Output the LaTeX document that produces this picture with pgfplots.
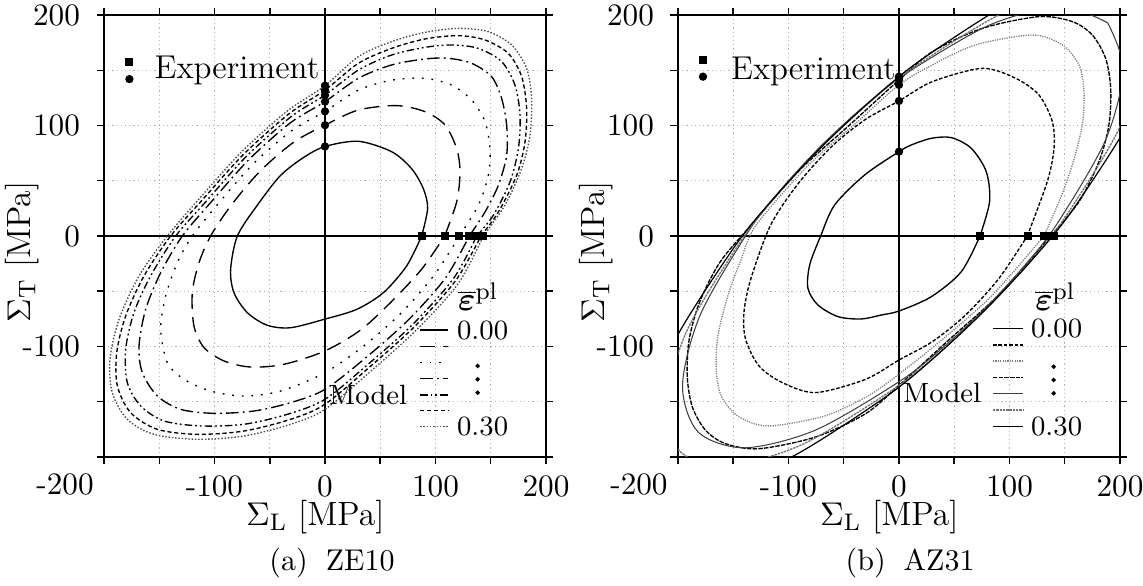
\documentclass[border=0pt]{standalone}
\usepackage{pgfplots}
\pgfplotsset{compat=1.18}
\usepackage{bm}
\pgfplotsset{
  base/.style={
    width=147.33pt, height=147.33pt, scale only axis,
    xmin=-200, xmax=200, ymin=-200, ymax=200,
    xtick={-200,-150,...,200}, ytick={-200,-150,...,200},
    xticklabels={,,-100,,0,,100,,200},
    yticklabels={,,-100,,0,,100,,200},
    tick align=outside, major tick length=2.5pt,
    grid=major, grid style={densely dotted, black!30, line width=0.4pt},
    axis line style={line width=0.6pt}, tick style={black, line width=0.5pt},
    ticklabel style={font=\fontsize{10.4}{12}\selectfont},
    yticklabel style={xshift=-2pt},
    xticklabel style={inner sep=1pt, yshift=-2.4pt},
    extra x ticks={0}, extra y ticks={0},
    extra x tick labels={}, extra y tick labels={},
    extra tick style={grid style={solid, black, line width=0.6pt}},
    xlabel={$\Sigma_{\mathrm{L}}$ [MPa]}, ylabel={$\Sigma_{\mathrm{T}}$ [MPa]},
    label style={font=\fontsize{11.2}{13}\selectfont},
    xlabel style={at={(axis description cs:0.478,-0.135)}, anchor=center, inner sep=0pt},
    ylabel style={at={(axis description cs:-0.186,0.464)}, anchor=center},
    every axis plot/.append style={line width=0.45pt, black},
  },
  sq/.style={only marks, mark=square*, mark size=1.1pt},
  dt/.style={only marks, mark=*, mark size=1.15pt},
  vd/.style={only marks, mark=*, mark size=0.5pt},
  c0/.style={solid},
  c1/.style={dash pattern=on 5pt off 2.8pt},
  c2/.style={dash pattern=on 0.6pt off 2.6pt},
  c3/.style={dash pattern=on 4.2pt off 1.4pt on 0.6pt off 1.4pt},
  c4/.style={dash pattern=on 2.5pt off 1pt on 0.6pt off 1pt on 0.6pt off 1pt},
  c5/.style={dash pattern=on 1.4pt off 0.9pt},
  c6/.style={dash pattern=on 0.5pt off 0.6pt, black!70},
  r0/.style={solid},
  r1/.style={dash pattern=on 1.2pt off 0.6pt},
  r2/.style={dash pattern=on 0.4pt off 0.4pt, black!50},
  r3/.style={dash pattern=on 1.5pt off 0.4pt},
  r4/.style={solid, black!75, line width=0.35pt},
  r5/.style={dash pattern=on 0.8pt off 0.3pt, black!55},
  r6/.style={solid, line width=0.4pt},
}
\newcommand{\lfont}{\fontsize{9.3}{11}\selectfont}
\newcommand{\efont}{\fontsize{11}{13}\selectfont}
\begin{document}
\begin{tikzpicture}
% ---------------- (a) ZE10 ----------------
\begin{axis}[base, at={(0pt,0pt)}, anchor=south west]
\addplot[c0, smooth] coordinates {(87.5,0) (92.9,25) (89,42.8) (78.4,60.9) (60.3,76.3) (30.2,85.7) (0,81) (-19.6,70.9) (-40.7,54.3) (-61.8,27.1) (-79.3,0) (-85.4,-30.2) (-82.4,-51.3) (-70.3,-69.4) (-52.2,-80.8) (-31.1,-83) (0,-75.2) (28.7,-66.4) (52.8,-51.3) (73.9,-27.1) (87.5,0)};
\addplot[c1, smooth] coordinates {(108.3,0) (119.2,31) (122.2,58) (119.2,79) (108.6,100.5) (90.5,112.5) (64.9,118) (30.2,114) (0,100.3) (-28.3,84.9) (-58.7,58.7) (-84.7,28.1) (-103.5,0) (-114,-24.1) (-120.1,-51.3) (-118.6,-81.4) (-109.5,-101) (-91.4,-113.1) (-67.3,-118.6) (-37.1,-116.1) (0,-104) (33,-84.5) (63,-56.5) (88.3,-29) (108.3,0)};
\addplot[c2, smooth] coordinates {(121.6,0) (138.8,27.8) (147.8,55) (149.3,79) (144.8,103.5) (132.7,123) (114.6,136.6) (90.5,142.7) (60.3,141) (30.2,132) (0,112.8) (-31,94.7) (-65.1,65.1) (-94.9,31.3) (-120.1,0) (-133.6,-24.1) (-144.2,-54.3) (-148.7,-84.5) (-142.7,-114.6) (-127.6,-129.7) (-103.5,-140.3) (-73.3,-144.8) (-40.1,-140.3) (0,-123.7) (35.5,-99.1) (69.3,-69.3) (98.9,-35.3) (121.6,0)};
\addplot[c3, smooth] coordinates {(130.6,0) (144.8,21.7) (156.9,45.9) (164.4,73) (164.4,100.2) (159.9,124.3) (150.8,144.2) (132.7,156.3) (111.6,160.8) (90.5,160.2) (60.3,154.8) (30.2,142.7) (0,121.6) (-31.5,102.3) (-69,69) (-102.3,31.6) (-129.1,0) (-148.7,-33.2) (-162.3,-66.4) (-168.3,-99.5) (-165.3,-123.7) (-151.7,-144.8) (-130.6,-156.9) (-100.5,-160.5) (-64.3,-158.4) (-31.1,-150.8) (0,-138.8) (38.3,-109) (75.7,-75.7) (108.9,-38.2) (130.6,0)};
\addplot[c4, smooth] coordinates {(137.3,0) (152.3,18.7) (167.4,48.9) (175,79) (176.5,109.5) (171.9,136.6) (159.9,157.8) (138.8,169.8) (114.6,172.9) (90.5,170.7) (60.3,163.8) (30.2,150.2) (0,127.5) (-30.4,108.2) (-71.6,71.6) (-108.3,30.5) (-135.1,0) (-157.8,-36.2) (-172.9,-69.4) (-180.4,-102.6) (-178.9,-132.7) (-166.8,-153.8) (-145.7,-167.4) (-112.5,-171.9) (-73.3,-170.4) (-34.1,-161.4) (0,-147.8) (38.6,-116.4) (79.7,-79.7) (116.3,-38.5) (137.3,0)};
\addplot[c5, smooth] coordinates {(141.2,0) (156.9,21.7) (173.5,55) (181,85) (182.5,115.5) (178,144.2) (165.9,165.3) (144.8,177.4) (120.7,181.3) (90.5,178.3) (60.3,169.8) (30.2,156.3) (0,132) (-32.7,110.5) (-73.8,73.8) (-110.7,33) (-139.7,0) (-163.8,-36.2) (-180.4,-72.4) (-188.5,-105.6) (-187.9,-135.7) (-175.9,-159.9) (-151.7,-175) (-115.5,-179.5) (-73.3,-176.5) (-31.1,-165.9) (0,-152.3) (40.6,-118.4) (81.5,-81.5) (118.2,-40.4) (141.2,0)};
\addplot[c6, smooth] coordinates {(143.3,0) (162.9,28) (178,61.2) (185.5,91.1) (187,124.6) (182.5,151.7) (168.9,172.9) (147.8,184.9) (120.7,187.9) (90.5,184.3) (60.3,175.9) (30.2,162.3) (0,136) (-34.8,112.6) (-75.8,75.8) (-112.7,34.9) (-142.7,0) (-168.3,-36.2) (-186.4,-75.4) (-194.6,-111.6) (-192.5,-141.8) (-178.9,-165.9) (-154.8,-179.5) (-115.5,-184) (-73.3,-181) (-31.1,-170.4) (0,-156.9) (43.1,-120.9) (83.9,-83.9) (120.7,-42.9) (143.3,0)};
% experiment
\addplot[sq] coordinates {(87.5,0) (108.3,0) (121.6,0) (130.6,0) (137.3,0) (141.2,0) (143.3,0)};
\addplot[dt] coordinates {(0,81) (0,100.3) (0,112.8) (0,121.6) (0,127.5) (0,132) (0,136)};
\addplot[sq] coordinates {(-177,157.5)};
\addplot[dt] coordinates {(-177,142)};
\node[anchor=west, font=\efont] at (axis cs:-163.8,150) {Experiment};
% model legend
\addplot[c0] coordinates {(86,-85.1) (111.6,-85.1)};
\addplot[c1] coordinates {(86,-100.2) (111.6,-100.2)};
\addplot[c2] coordinates {(86,-114.3) (111.6,-114.3)};
\addplot[c3] coordinates {(86,-128.8) (111.6,-128.8)};
\addplot[c4] coordinates {(86,-143.9) (111.6,-143.9)};
\addplot[c5] coordinates {(86,-158.1) (111.6,-158.1)};
\addplot[c6] coordinates {(86,-172.6) (111.6,-172.6)};
\addplot[vd] coordinates {(138.2,-117.6) (138.2,-129.7) (138.2,-141.8)};
\node[font=\efont] at (axis cs:138.7,-54.9) {$\overline{\bm{\varepsilon}}^{\mathrm{pl}}$};
\node[anchor=west, font=\lfont] at (axis cs:110,-85.1) {0.00};
\node[anchor=west, font=\lfont] at (axis cs:110,-172.6) {0.30};
\node[anchor=east, font=\lfont] at (axis cs:84,-143.9) {Model};
\end{axis}
\node[font=\fontsize{10.4}{12}\selectfont] at (-13pt,-9pt) {-200};
\node[font=\fontsize{10}{12}\selectfont] at (76pt,-35.3pt) {(a)\hspace{6pt}ZE10};
% ---------------- (b) AZ31 ----------------
\begin{axis}[base, at={(191.33pt,0pt)}, anchor=south west]
\addplot[r0, smooth] coordinates {(73.3,0) (82,31.1) (79,58.2) (65.5,79.3) (47.4,89) (29.3,88.4) (11.2,82.4) (0,76.3) (-31.1,55.2) (-58.2,28.1) (-70.9,0) (-80.8,-26.2) (-82.4,-47.4) (-73.4,-62.4) (-55.2,-73) (-34.1,-75.1) (-16,-71.5) (0,-67.9) (29.3,-54.9) (56.4,-32.3) (73.3,0)};
\addplot[r1, smooth] coordinates {(116.1,0) (134.2,49.2) (140.3,79.3) (138.8,103.5) (126.7,127.6) (105.6,142.7) (75.4,151.7) (30.2,139.7) (0,122.2) (-30.2,105.6) (-60.3,81.5) (-90.5,48.3) (-116.1,10) (-134.2,-39.2) (-140.3,-69.3) (-138.8,-93.5) (-126.7,-117.6) (-105.6,-132.7) (-75.4,-141.7) (-30.2,-129.7) (0,-112.2) (30.2,-95.6) (60.3,-71.5) (90.5,-38.3) (116.1,0)};
\addplot[r2, smooth] coordinates {(131.2,0) (144.8,31) (156.9,64.3) (165.9,100.5) (167.4,130.6) (162.9,154.8) (147.8,172.9) (120.7,181.9) (69.4,172.9) (30.2,154.8) (0,136.7) (-38,103) (-83,63) (-129.2,10) (-142.8,-21) (-154.9,-54.3) (-163.9,-90.5) (-165.4,-120.6) (-160.9,-144.8) (-145.8,-162.9) (-118.7,-171.9) (-67.4,-162.9) (-28.2,-144.8) (0,-125) (40,-93) (85,-53) (131.2,0)};
\addplot[r3, smooth] coordinates {(137.3,0) (162.9,31) (181,67.3) (190,100.5) (191.6,133.6) (187,160.8) (175,181.9) (156.9,194) (126.7,198.5) (75.4,187.9) (30.2,166.8) (0,141.2) (-45.2,100) (-90.5,59) (-137.3,6) (-162.9,-25) (-181,-61.3) (-190,-94.5) (-191.6,-127.6) (-187,-154.8) (-175,-175.9) (-156.9,-188) (-126.7,-192.5) (-75.4,-181.9) (-30.2,-160.8) (0,-135.2) (45.2,-94) (90.5,-53) (137.3,0)};
\addplot[r4, smooth] coordinates {(188.8,193) (146.4,207.3) (82.3,191.1) (6.2,146.9) (-32.8,116.4) (-70.4,81.7) (-105.1,44.1) (-135.6,5.1) (-179.7,-71) (-195.9,-135.1) (-181.7,-177.5) (-139.4,-191.7) (-75.2,-175.5) (0.8,-131.4) (39.9,-100.8) (77.4,-66.1) (112.1,-28.6) (142.7,10.5) (186.8,86.5) (203,150.7) (188.8,193)};
\addplot[r5, smooth] coordinates {(206.5,209.3) (162.8,222.2) (95,202.3) (13.4,152.7) (-28.8,119) (-69.7,81) (-107.7,40.1) (-141.4,-2.1) (-191,-83.7) (-210.9,-151.5) (-198,-195.2) (-154.3,-208) (-86.5,-188.2) (-4.9,-138.6) (37.3,-104.9) (78.1,-66.8) (116.2,-26) (149.9,16.3) (199.5,97.8) (219.3,165.6) (206.5,209.3)};
\addplot[r6, smooth] coordinates {(224.9,227.7) (179.8,239.2) (108,215.3) (20.4,159.7) (-25.2,122.6) (-69.7,81) (-111.3,36.5) (-148.4,-9.1) (-204,-96.7) (-227.9,-168.5) (-216.4,-213.5) (-171.3,-225.1) (-99.5,-201.2) (-12,-145.6) (33.7,-108.5) (78.1,-66.8) (119.8,-22.3) (156.9,23.3) (212.5,110.8) (236.4,182.6) (224.9,227.7)};
% experiment
\addplot[sq] coordinates {(73.3,0) (116.5,0) (131.2,0) (136.7,0) (138.5,0) (139.7,0) (140.5,0)};
\addplot[dt] coordinates {(0,76.3) (0,122.2) (0,136.7) (0,141.2) (0,142.5) (0,143.6) (0,144.2)};
\addplot[sq] coordinates {(-177.4,159.3)};
\addplot[dt] coordinates {(-177.4,144.2)};
\node[anchor=west, font=\efont] at (axis cs:-161.6,148.7) {Experiment};
% model legend
\addplot[r0] coordinates {(85,-83.6) (112.2,-83.6)};
\addplot[r1] coordinates {(85,-98.6) (112.2,-98.6)};
\addplot[r2] coordinates {(85,-113.1) (112.2,-113.1)};
\addplot[r3] coordinates {(85,-127.9) (112.2,-127.9)};
\addplot[r4] coordinates {(85,-142.4) (112.2,-142.4)};
\addplot[r5] coordinates {(85,-157.5) (112.2,-157.5)};
\addplot[r6] coordinates {(85,-172.5) (112.2,-172.5)};
\addplot[vd] coordinates {(140,-118.3) (140,-130.3) (140,-142.4)};
\node[font=\efont] at (axis cs:141.5,-54.9) {$\overline{\bm{\varepsilon}}^{\mathrm{pl}}$};
\node[anchor=west, font=\lfont] at (axis cs:110,-83.6) {0.00};
\node[anchor=west, font=\lfont] at (axis cs:110,-172.5) {0.30};
\node[anchor=east, font=\lfont] at (axis cs:84,-142.4) {Model};
\end{axis}
\node[font=\fontsize{10.4}{12}\selectfont] at (178.33pt,-9pt) {-200};
\node[font=\fontsize{10}{12}\selectfont] at (268.7pt,-35.3pt) {(b)\hspace{6pt}AZ31};
\pgfresetboundingbox
\useasboundingbox (-34.67pt,-43pt) rectangle (346.33pt,152.33pt);
\end{tikzpicture}
\end{document}
